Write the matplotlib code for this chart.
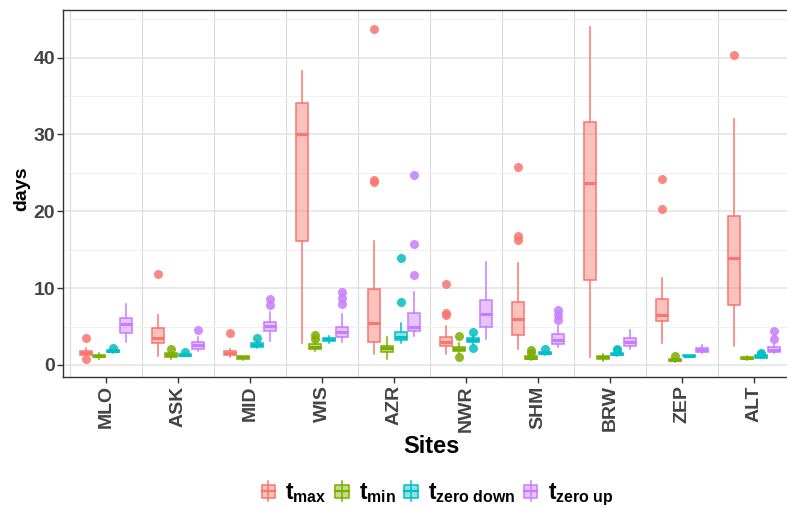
import matplotlib
matplotlib.use("Agg")
import matplotlib.pyplot as plt
from matplotlib.patches import Patch, Rectangle
from matplotlib.lines import Line2D
from matplotlib.legend_handler import HandlerBase
from matplotlib.colors import to_rgba

plt.rcParams['font.family'] = ['Liberation Sans', 'DejaVu Sans']
plt.rcParams['font.weight'] = 'bold'
plt.rcParams['axes.labelweight'] = 'bold'
plt.rcParams['mathtext.fontset'] = 'custom'
plt.rcParams['mathtext.rm'] = 'Liberation Sans:bold'
plt.rcParams['mathtext.it'] = 'Liberation Sans:bold'
plt.rcParams['mathtext.bf'] = 'Liberation Sans:bold'

sites = ["MLO", "ASK", "MID", "WIS", "AZR", "NWR", "SHM", "BRW", "ZEP", "ALT"]

# box stats (days)
tmax_q1 = [1.3, 2.9, 1.3, 16.1, 2.95, 2.45, 3.85, 11.0, 5.7, 7.8]
tmax_med = [1.55, 3.45, 1.5, 30.05, 5.5, 3.05, 5.95, 23.7, 6.45, 13.9]
tmax_q3 = [1.85, 4.75, 1.8, 34.05, 9.9, 3.7, 8.15, 31.6, 8.6, 19.4]
tmax_lo = [1.1, 1.15, 1.0, 2.8, 1.4, 1.4, 2.05, 1.0, 2.8, 2.5]
tmax_hi = [2.2, 6.5, 2.1, 38.25, 16.1, 5.1, 13.3, 44.0, 11.35, 32.0]
tmax_out = [[3.5, 0.8], [11.8], [4.2], [], [43.75, 24.05, 23.85],
            [10.5, 6.7, 6.45], [25.7, 16.8, 16.2], [], [24.2, 20.3], [40.35]]

tmin_q1 = [1.0, 1.05, 0.8, 2.1, 1.65, 1.8, 0.75, 0.8, 0.5, 0.8]
tmin_med = [1.2, 1.3, 1.0, 2.4, 2.15, 2.1, 0.95, 1.0, 0.65, 0.95]
tmin_q3 = [1.35, 1.5, 1.15, 2.7, 2.5, 2.4, 1.15, 1.15, 0.8, 1.05]
tmin_lo = [0.8, 0.75, 0.7, 1.85, 0.75, 1.5, 0.6, 0.5, 0.4, 0.7]
tmin_hi = [1.6, 1.6, 1.2, 3.0, 3.6, 2.8, 1.3, 1.4, 0.9, 1.1]
tmin_out = [[], [2.1], [], [3.95, 3.4], [], [3.75, 1.0], [2.0, 1.6], [], [1.15], []]

tzd_q1 = [1.65, 1.2, 2.4, 3.15, 3.25, 2.95, 1.4, 1.25, 1.1, 0.95]
tzd_med = [1.8, 1.35, 2.6, 3.35, 3.7, 3.25, 1.55, 1.45, 1.2, 1.1]
tzd_q3 = [1.9, 1.45, 2.9, 3.55, 4.25, 3.55, 1.7, 1.6, 1.3, 1.25]
tzd_lo = [1.55, 1.1, 2.2, 2.9, 2.9, 2.6, 1.3, 1.1, 1.05, 0.9]
tzd_hi = [2.0, 1.5, 3.1, 3.75, 5.4, 3.9, 1.8, 1.7, 1.35, 1.3]
tzd_out = [[2.25], [1.75], [3.45], [], [13.9, 8.25], [4.35, 2.2], [2.05],
           [2.1, 1.9], [], [1.55, 1.4]]

tzu_q1 = [4.1, 2.1, 4.45, 3.6, 4.4, 5.0, 2.7, 2.45, 1.75, 1.75]
tzu_med = [5.35, 2.55, 5.05, 4.3, 5.0, 6.65, 3.25, 3.0, 1.95, 2.0]
tzu_q3 = [6.05, 2.95, 5.55, 5.0, 6.7, 8.4, 4.0, 3.45, 2.15, 2.35]
tzu_lo = [2.95, 1.85, 3.15, 3.05, 3.8, 3.4, 2.35, 2.05, 1.5, 1.5]
tzu_hi = [7.95, 3.7, 6.85, 6.65, 9.5, 13.35, 5.1, 4.55, 2.6, 2.75]
tzu_out = [[], [4.55], [8.55, 7.85], [9.5, 8.75, 7.9], [24.7, 15.75, 11.65],
           [], [7.15, 6.55, 5.85], [], [], [4.4, 3.4]]

labels = [r'$t_{max}$', r'$t_{min}$', r'$t_{zero\ down}$', r'$t_{zero\ up}$']
colors = ['#F8766D', '#7CAE00', '#00BFC4', '#C77CFF']

series = [
    (tmax_q1, tmax_med, tmax_q3, tmax_lo, tmax_hi, tmax_out),
    (tmin_q1, tmin_med, tmin_q3, tmin_lo, tmin_hi, tmin_out),
    (tzd_q1, tzd_med, tzd_q3, tzd_lo, tzd_hi, tzd_out),
    (tzu_q1, tzu_med, tzu_q3, tzu_lo, tzu_hi, tzu_out),
]

fig = plt.figure(figsize=(7.87, 5.08), dpi=100)
ax = fig.add_axes([0.0804, 0.258, 1 - 0.0804, 0.9797 - 0.258])

dodge = 0.75 / 4
for k, (q1, med, q3, lo, hi, out) in enumerate(series):
    stats = []
    for i in range(len(sites)):
        stats.append(dict(med=med[i], q1=q1[i], q3=q3[i], whislo=lo[i],
                          whishi=hi[i], fliers=out[i]))
    pos = [i + 1 + (k - 1.5) * dodge for i in range(len(sites))]
    c = colors[k]
    ax.bxp(stats, positions=pos, widths=0.17, patch_artist=True,
           showcaps=False, manage_ticks=False,
           boxprops=dict(facecolor=to_rgba(c, 0.45), edgecolor=c, linewidth=1.1),
           medianprops=dict(color=c, linewidth=2.2, solid_capstyle='butt'),
           whiskerprops=dict(color=c, linewidth=1.1),
           flierprops=dict(marker='o', markerfacecolor=c, markeredgecolor='none',
                           markersize=6.5, alpha=0.85))

ax.set_xlim(0.407, 10.458)
ax.set_ylim(-1.56, 46.15)
ax.set_xticks(range(1, len(sites) + 1))
ax.set_xticklabels(sites, rotation=90, fontweight='bold')
ax.set_yticks([0, 10, 20, 30, 40])
ax.set_yticks([5, 15, 25, 35, 45], minor=True)

ax.set_axisbelow(True)
ax.grid(axis='y', which='major', color='#E3E3E3', linewidth=1.1)
ax.grid(axis='y', which='minor', color='#F0F0F0', linewidth=0.7)
for b in range(len(sites) + 1):
    ax.axvline(b + 0.5, color='#DADADA', linewidth=0.8, zorder=0.5)

for s in ['left', 'top', 'bottom']:
    ax.spines[s].set_color('#333333')
    ax.spines[s].set_linewidth(1.0)
ax.spines['right'].set_visible(False)
ax.tick_params(axis='both', which='major', length=4, width=1.0, color='#333333',
               labelcolor='#444444', labelsize=14, pad=2)
ax.tick_params(axis='y', which='minor', length=0)

ax.set_ylabel('days', fontsize=14, fontweight='bold')
ax.yaxis.set_label_coords(-0.045, 0.513)
ax.set_xlabel('Sites', fontsize=17, fontweight='bold')
ax.xaxis.set_label_coords(0.509, -0.158)


class BoxHandler(HandlerBase):
    def create_artists(self, legend, orig_handle, xdescent, ydescent,
                       width, height, fontsize, trans):
        c = orig_handle.get_edgecolor()
        x0, y0 = -xdescent, -ydescent
        cx = x0 + width / 2
        line = Line2D([cx, cx], [y0, y0 + height], color=c, linewidth=1.1,
                      transform=trans)
        box = Rectangle((x0 + 0.08 * width, y0 + 0.18 * height), 0.84 * width,
                        0.64 * height, facecolor=orig_handle.get_facecolor(),
                        edgecolor=c, linewidth=1.1, transform=trans)
        medl = Line2D([x0 + 0.08 * width, x0 + 0.92 * width],
                      [y0 + height / 2, y0 + height / 2], color=c,
                      linewidth=1.6, transform=trans)
        return [line, box, medl]


handles = [Patch(facecolor=to_rgba(c, 0.45), edgecolor=c) for c in colors]
fig.legend(handles, labels, loc='center', bbox_to_anchor=(0.555, 0.027),
           ncol=4, frameon=False, fontsize=16.3, handlelength=0.7,
           handleheight=1.0, handletextpad=0.4, columnspacing=0.33,
           handler_map={Patch: BoxHandler()})

fig.savefig('out.png', dpi=100)
